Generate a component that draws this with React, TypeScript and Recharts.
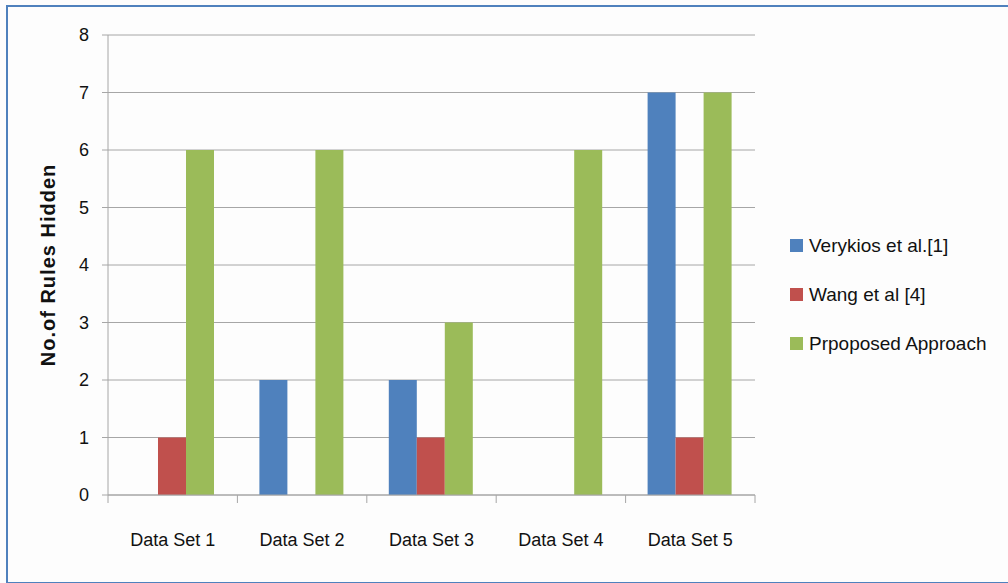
import React from 'react';
import { BarChart, Bar, XAxis, YAxis, CartesianGrid } from 'recharts';

const categories = ['Data Set 1', 'Data Set 2', 'Data Set 3', 'Data Set 4', 'Data Set 5'];
const verykios = [0, 2, 2, 0, 7];
const wang = [1, 0, 1, 0, 1];
const proposed = [6, 6, 3, 6, 7];
const yTicks = [0, 1, 2, 3, 4, 5, 6, 7, 8];

const seriesList = [
  { key: 'verykios', name: 'Verykios et al.[1]', color: '#4F81BD' },
  { key: 'wang', name: 'Wang et al [4]', color: '#C0504D' },
  { key: 'proposed', name: 'Prpoposed Approach', color: '#9BBB59' },
];

const data = categories.map((c, i) => ({
  name: c,
  verykios: verykios[i],
  wang: wang[i],
  proposed: proposed[i],
}));

const FONT = '"Liberation Sans", Arial, sans-serif';
const GRID = '#A6A6A6';

const CategoryTick = (props: any) => {
  const { x, y, payload, index } = props;
  const off = payload && payload.offset ? payload.offset : 64.7;
  return (
    <g>
      <line x1={x - off} y1={y} x2={x - off} y2={y + 8} stroke={GRID} />
      {index === categories.length - 1 && (
        <line x1={x + off} y1={y} x2={x + off} y2={y + 8} stroke={GRID} />
      )}
      <text x={x} y={y + 51} textAnchor="middle" fill="#111" fontSize={18} fontFamily={FONT}>
        {payload.value}
      </text>
    </g>
  );
};

const YLabel = (props: any) => {
  const vb = props.viewBox || { x: 0, y: 35, width: 108, height: 460 };
  const cx = vb.x + 48;
  const cy = vb.y + vb.height / 2;
  return (
    <text
      x={cx}
      y={cy}
      transform={`rotate(-90, ${cx}, ${cy})`}
      textAnchor="middle"
      dominantBaseline="central"
      fontSize={20}
      fontWeight="bold"
      letterSpacing={1}
      fill="#111"
      fontFamily={FONT}
    >
      No.of Rules Hidden
    </text>
  );
};

export default function App() {
  return (
    <div style={{ position: 'absolute', left: 0, top: 0, width: 1008, height: 583, background: '#fdfdfd', fontFamily: FONT }}>
      <div
        style={{
          position: 'absolute',
          left: 6,
          top: 5,
          width: 1010,
          height: 575,
          borderLeft: '2px solid #4F81BD',
          borderTop: '2px solid #4F81BD',
          borderBottom: '2px solid #4F81BD',
        }}
      />
      <div style={{ position: 'absolute', left: 0, top: 0 }}>
        <BarChart
          width={1008}
          height={583}
          data={data}
          margin={{ top: 35, right: 253, bottom: 0, left: 0 }}
          barCategoryGap="17%"
          barGap={0}
        >
          <CartesianGrid vertical={false} stroke={GRID} />
          <XAxis
            dataKey="name"
            height={88}
            stroke={GRID}
            tickLine={false}
            tickSize={0}
            tickMargin={0}
            tick={<CategoryTick />}
            interval={0}
          />
          <YAxis
            width={108}
            domain={[0, 8]}
            ticks={yTicks}
            interval={0}
            stroke={GRID}
            tickSize={6}
            tickMargin={13}
            tick={{ fill: '#111', fontSize: 18, fontFamily: FONT }}
            label={<YLabel />}
          />
          {seriesList.map((s) => (
            <Bar key={s.key} dataKey={s.key} name={s.name} fill={s.color} isAnimationActive={false} />
          ))}
        </BarChart>
      </div>
      <div style={{ position: 'absolute', left: 790, top: 221 }}>
        {seriesList.map((s) => (
          <div key={s.key} style={{ height: 49, display: 'flex', alignItems: 'center' }}>
            <span style={{ width: 13, height: 13, background: s.color, display: 'inline-block', marginRight: 6 }} />
            <span style={{ fontSize: 19, color: '#111', whiteSpace: 'nowrap' }}>{s.name}</span>
          </div>
        ))}
      </div>
    </div>
  );
}
